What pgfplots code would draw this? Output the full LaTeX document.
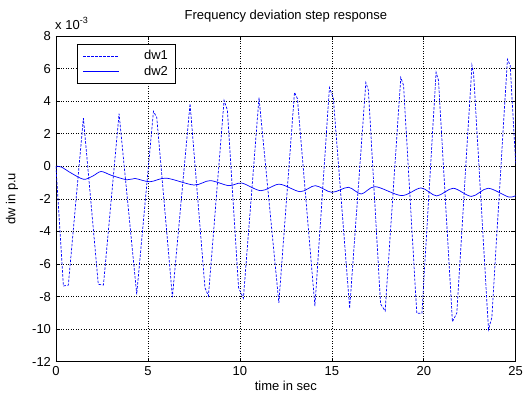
\documentclass[border=0pt]{standalone}
\usepackage{fontspec}
\setmainfont{Liberation Sans}
\usepackage{pgfplots}
\pgfplotsset{compat=1.18}
\definecolor{mblue}{rgb}{0,0,1}
\begin{document}
\begin{tikzpicture}[font=\fontsize{13}{15}\selectfont]
\path[use as bounding box] (-56pt,-32.3pt) rectangle (468pt,361.7pt);
\begin{axis}[
  scale only axis, width=459.7pt, height=325.7pt,
  xmin=0, xmax=25, ymin=-12, ymax=8,
  xtick={0,5,...,25}, ytick={-12,-10,...,8},
  /pgf/number format/assume math mode=true,
  grid=major,
  grid style={black, line width=0.6pt, dash pattern=on 1pt off 1.5pt},
  tick align=inside, major tick length=4pt,
  tick style={black, line width=0.6pt},
  axis line style={black, line width=0.8pt},
  title={Frequency deviation step response},
  title style={at={(0.5,1)}, anchor=base, yshift=10pt, inner sep=0pt},
  xlabel={time in sec},
  xlabel style={at={(0.5,0)}, anchor=base, yshift=-28.8pt, inner sep=0pt},
  ylabel={dw in p.u},
  ylabel style={at={(axis description cs:-0.0957,0.5)}, anchor=center, inner sep=0pt},
  yticklabel style={xshift=-1.5pt},
  xticklabel style={yshift=-1.5pt},
  legend style={at={(axis description cs:0.045,0.9754)}, anchor=north west,
    draw=black, line width=0.8pt, fill=white, inner xsep=4pt, inner ysep=3pt,
    row sep=-1pt, nodes={inner sep=3pt}},
  legend cell align=left,
  legend image code/.code={\draw[#1] (2pt,0pt) -- (38pt,0pt); \path[draw=none] (0pt,0pt) -- (60pt,0pt);},
]
\addplot[mblue, line width=0.7pt, dash pattern=on 2.5pt off 1.5pt] coordinates {
(0,0) (0.4,-7.35) (0.67,-7.3) (1.49,2.96) (2.3,-7.25) (2.58,-7.29)
(3.43,3.23) (4.39,-7.86) (5.30,3.37) (5.48,3.0) (6.33,-8.03)
(7.29,3.84) (8.1,-7.45) (8.29,-7.97) (9.14,4.05) (9.32,3.45)
(9.93,-7.45) (10.19,-8.11) (11.04,4.21) (12.12,-8.38) (12.97,4.54)
(13.13,4.15) (14.08,-8.58) (14.87,4.83) (15.08,4.2) (15.97,-8.72)
(16.85,5.14) (16.99,4.66) (17.65,-8.45) (17.9,-8.89) (18.75,5.45)
(18.9,4.97) (19.62,-9.03) (19.9,-9.03) (20.67,5.77) (20.8,5.28)
(21.56,-9.55) (21.8,-9.0) (22.62,6.20) (22.71,5.69) (23.52,-10.02)
(23.7,-9.3) (24.55,6.57) (24.7,6.2) (25,0.15)
};
\addlegendentry{dw1}
\addplot[mblue, line width=0.7pt, smooth, tension=0.5] coordinates {
(0,0) (0.3,-0.05) (0.8,-0.4) (1.5,-0.8) (2.0,-0.6) (2.45,-0.32)
(3.0,-0.55) (3.85,-0.83) (4.3,-0.75) (5.1,-0.95) (6.0,-0.73)
(7.5,-1.15) (8.38,-0.88) (9.4,-1.19) (10.1,-1.03) (11.15,-1.5)
(12.15,-1.1) (13.28,-1.56) (14.1,-1.19) (15.0,-1.6) (15.9,-1.29)
(16.6,-1.7) (17.36,-1.25) (18.8,-1.8) (19.85,-1.33) (20.7,-1.82)
(21.6,-1.35) (22.6,-1.85) (23.5,-1.35) (24.6,-1.88) (25,-1.8)
};
\addlegendentry{dw2}
\end{axis}
\node[anchor=base west, inner sep=0pt] at ([xshift=-1pt,yshift=6.7pt]current axis.north west) {x 10\raisebox{0.45em}{\fontsize{9}{10}\selectfont -3}};
\end{tikzpicture}
\end{document}
